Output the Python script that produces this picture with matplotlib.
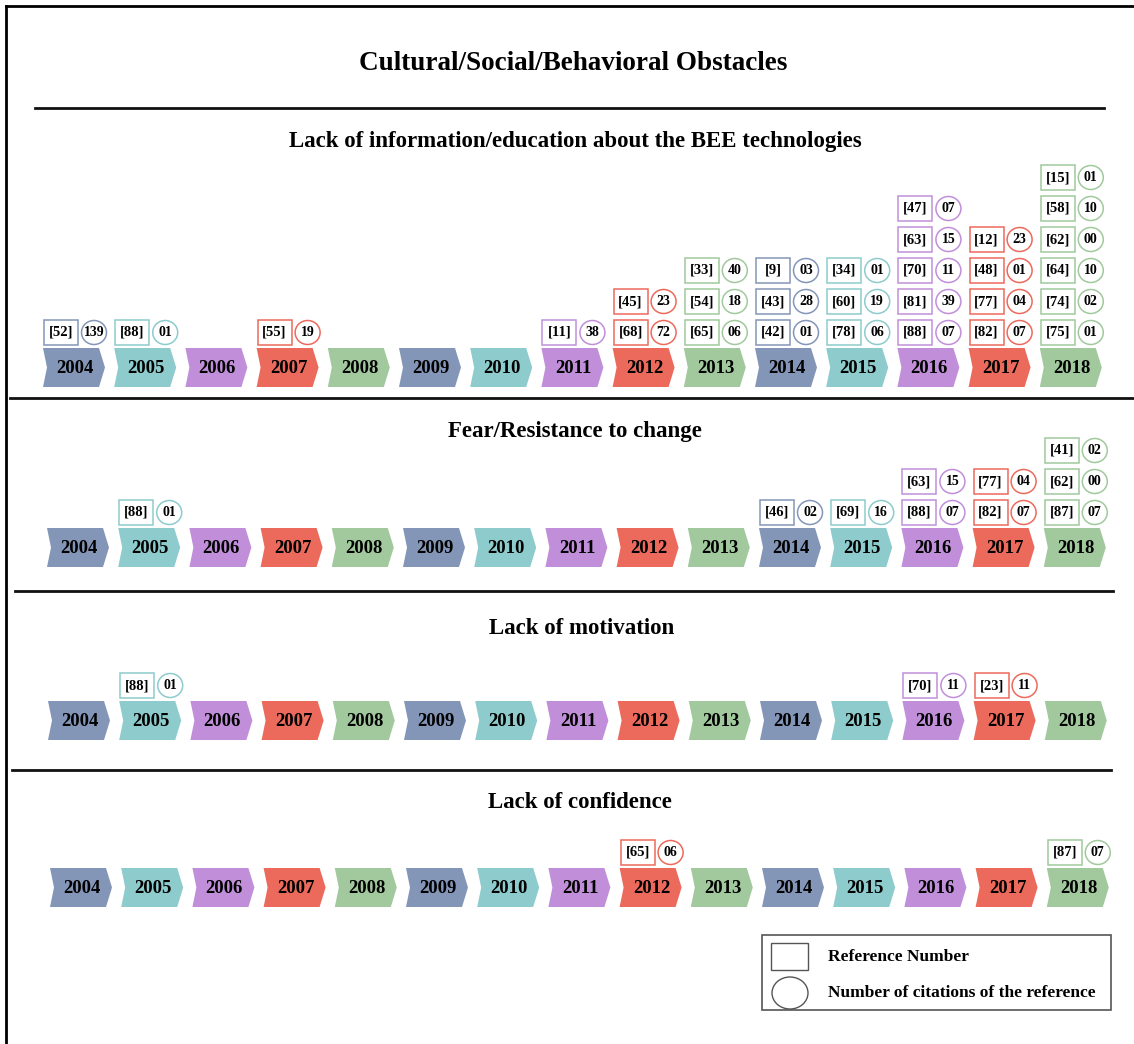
import matplotlib.pyplot as plt
from matplotlib.patches import Polygon, Rectangle, Ellipse

plt.rcParams['font.family'] = ['Liberation Serif', 'DejaVu Serif']
plt.rcParams['font.weight'] = 'bold'

main_title = "Cultural/Social/Behavioral Obstacles"
years = list(range(2004, 2019))
year_colors = ['#8496B8', '#8DCBCC', '#C18FDA', '#EC6A5C', '#A1C99D']

row_titles = [
    "Lack of information/education about the BEE technologies",
    "Fear/Resistance to change",
    "Lack of motivation",
    "Lack of confidence",
]

# each year: list of (reference, citations), listed top to bottom
refs_information = {
    2004: [("52", "139")],
    2005: [("88", "01")],
    2007: [("55", "19")],
    2011: [("11", "38")],
    2012: [("45", "23"), ("68", "72")],
    2013: [("33", "40"), ("54", "18"), ("65", "06")],
    2014: [("9", "03"), ("43", "28"), ("42", "01")],
    2015: [("34", "01"), ("60", "19"), ("78", "06")],
    2016: [("47", "07"), ("63", "15"), ("70", "11"), ("81", "39"), ("88", "07")],
    2017: [("12", "23"), ("48", "01"), ("77", "04"), ("82", "07")],
    2018: [("15", "01"), ("58", "10"), ("62", "00"), ("64", "10"), ("74", "02"), ("75", "01")],
}
refs_fear = {
    2005: [("88", "01")],
    2014: [("46", "02")],
    2015: [("69", "16")],
    2016: [("63", "15"), ("88", "07")],
    2017: [("77", "04"), ("82", "07")],
    2018: [("41", "02"), ("62", "00"), ("87", "07")],
}
refs_motivation = {
    2005: [("88", "01")],
    2016: [("70", "11")],
    2017: [("23", "11")],
}
refs_confidence = {
    2012: [("65", "06")],
    2018: [("87", "07")],
}
row_refs = [refs_information, refs_fear, refs_motivation, refs_confidence]

legend_labels = ["Reference Number", "Number of citations of the reference"]

# layout (pixels)
W, H = 1134, 1044
row_x0 = [43, 47, 48, 50]
row_top = [348, 528, 701, 868]
row_title_y = [142, 431, 628, 802]
row_title_x = [575, 575, 582, 580]
pitch = 71.2
cw, ch, tip, notch = 62, 39, 6, 4
bw, bh, step = 34, 25, 31

fig = plt.figure(figsize=(W / 100, H / 100), dpi=100)
ax = fig.add_axes([0, 0, 1, 1])
ax.set_xlim(0, W)
ax.set_ylim(H, 0)
ax.axis('off')

# frame and separators
ax.plot([6, 6], [6, H], color='black', lw=2)
ax.plot([6, W], [6, 6], color='black', lw=2)
for y, x1, x2 in [(108, 35, 1104), (398, 10, 1134), (591, 15, 1113), (770, 12, 1111)]:
    ax.plot([x1, x2], [y, y], color='#111111', lw=2)

ax.text(573, 64, main_title, ha='center', va='center', fontsize=19.5, fontweight='bold')

for r in range(4):
    ax.text(row_title_x[r], row_title_y[r], row_titles[r], ha='center', va='center',
            fontsize=16.5, fontweight='bold')
    top = row_top[r]
    for i, yr in enumerate(years):
        x = row_x0[r] + i * pitch
        col = year_colors[i % 5]
        pts = [(x, top), (x + cw - tip, top), (x + cw, top + ch / 2),
               (x + cw - tip, top + ch), (x, top + ch), (x + notch, top + ch / 2)]
        ax.add_patch(Polygon(pts, closed=True, facecolor=col, edgecolor='none'))
        ax.text(x + cw / 2 + 1, top + ch / 2 + 1, str(yr), ha='center', va='center',
                fontsize=13.5, fontweight='bold')
        stack = row_refs[r].get(yr, [])
        n = len(stack)
        for k, (ref, cit) in enumerate(stack):
            by = top - 3 - bh - (n - 1 - k) * step
            bx = x + 1
            ax.add_patch(Rectangle((bx, by), bw, bh, facecolor='white', edgecolor=col, lw=1.1))
            ax.text(bx + bw / 2, by + bh / 2, "[" + ref + "]", ha='center', va='center',
                    fontsize=10.5, fontweight='bold')
            ax.add_patch(Ellipse((bx + 50, by + bh / 2), 25, 24, facecolor='white',
                                 edgecolor=col, lw=1.1))
            ax.text(bx + 50, by + bh / 2, cit, ha='center', va='center',
                    fontsize=10, fontweight='bold')

# legend
ax.add_patch(Rectangle((762, 935), 349, 75, facecolor='white', edgecolor='#555555', lw=1.2))
ax.add_patch(Rectangle((771, 943), 37, 27, facecolor='white', edgecolor='#555555', lw=1.0))
ax.add_patch(Ellipse((790, 993), 36, 32, facecolor='white', edgecolor='#555555', lw=1.0))
ax.text(828, 957, legend_labels[0], ha='left', va='center', fontsize=12.5, fontweight='bold')
ax.text(828, 993, legend_labels[1], ha='left', va='center', fontsize=12.5, fontweight='bold')

fig.savefig("out.png", dpi=100)
